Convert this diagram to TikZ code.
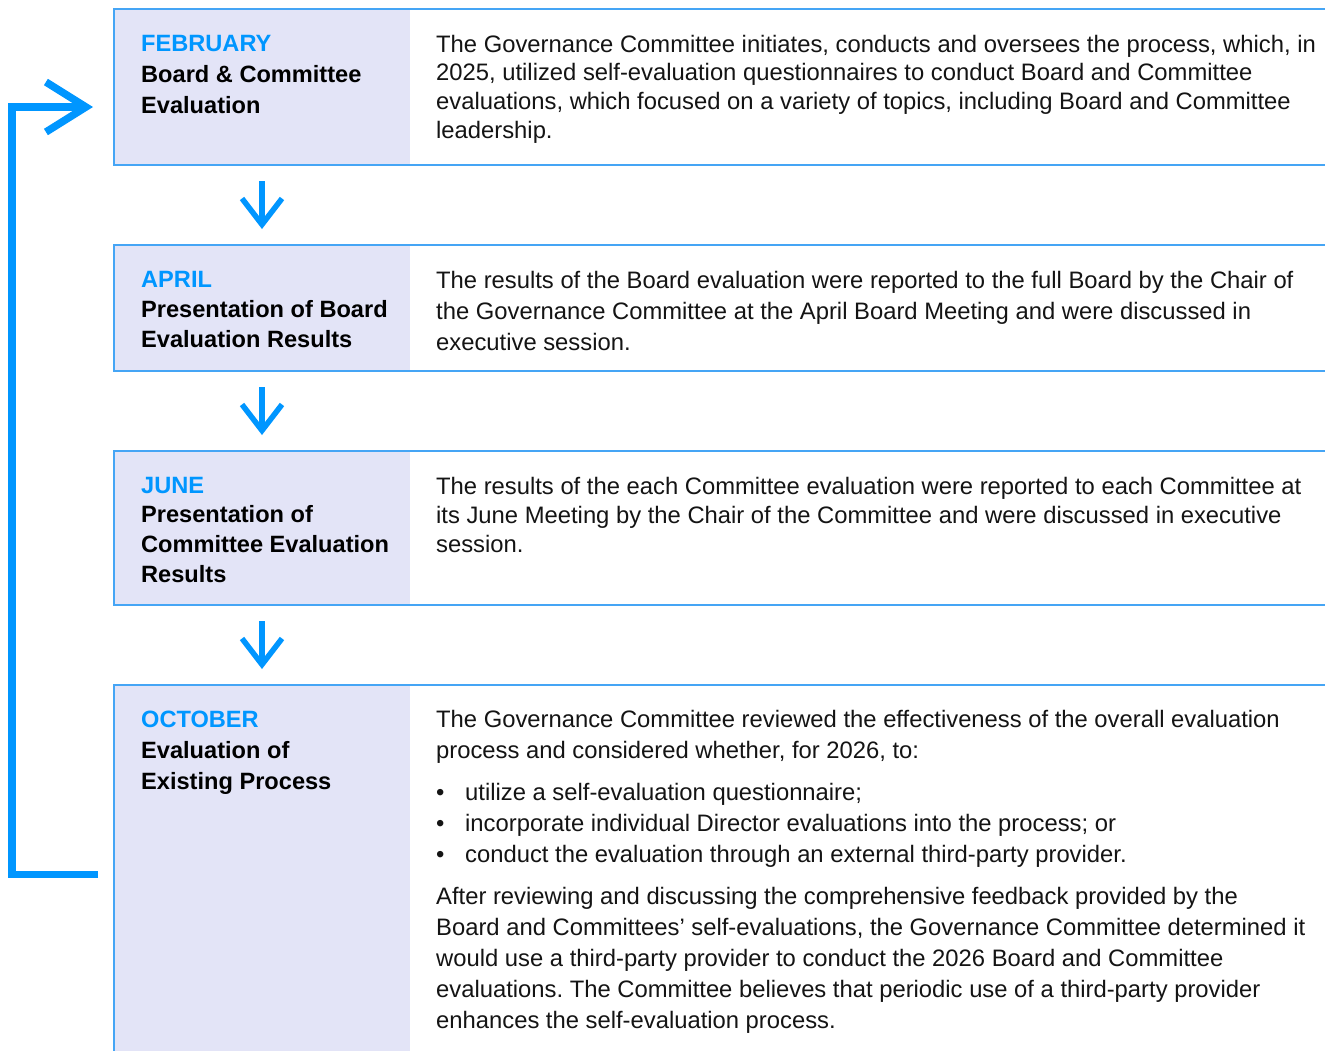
\documentclass[tikz,border=0pt]{standalone}
\usepackage{fontspec}
\setmainfont{Liberation Sans}
\usetikzlibrary{arrows.meta}
\definecolor{accent}{HTML}{0096FF}
\definecolor{framec}{HTML}{45A5F5}
\definecolor{panel}{HTML}{E3E4F7}
\definecolor{ink}{HTML}{141414}
\newcommand{\firstline}{\rule{0pt}{20pt}}
\frenchspacing
\begin{document}
\begin{tikzpicture}[x=1pt,y=-1pt,
  panelbox/.style={fill=panel, draw=none, minimum width=296pt, inner sep=0pt, outer sep=0pt, anchor=north west},
  frameline/.style={draw=framec, line width=1.6pt},
  bodytext/.style={anchor=north west, inner sep=0pt, align=left, text=ink, font=\fontsize{23.8}{29}\selectfont},
  headtext/.style={anchor=north west, inner sep=0pt, align=left, text=black, font=\bfseries\fontsize{23.6}{31}\selectfont},
  downarr/.style={draw=accent, line width=5.5pt, -{Straight Barb[length=26pt,width=40pt]}},
  looparr/.style={draw=accent, line width=7.5pt, line join=miter, -{Straight Barb[length=40pt,width=50pt]}}
]
\useasboundingbox[fill=white] (0,0) rectangle (1325,1050);
\coordinate (R) at (1330,0);

% panels
\node[panelbox, minimum height=156pt] (p1) at (114,9) {};
\node[panelbox, minimum height=126pt] (p2) at (114,245) {};
\node[panelbox, minimum height=154pt] (p3) at (114,451) {};
\node[panelbox, minimum height=370pt] (p4) at (114,685) {};

% frames
\draw[frameline] (p1.north -| R) -- (p1.north west) -- (p1.south west) -- (p1.south -| R);
\draw[frameline] (p2.north -| R) -- (p2.north west) -- (p2.south west) -- (p2.south -| R);
\draw[frameline] (p3.north -| R) -- (p3.north west) -- (p3.south west) -- (p3.south -| R);
\draw[frameline] (p4.north -| R) -- (p4.north west) -- (p4.south west);

% headings
\node[headtext] (h1) at (141,31) {\firstline\textcolor{accent}{FEBRUARY}\\Board \& Committee\\Evaluation};
\node[headtext, font=\bfseries\fontsize{23.6}{30}\selectfont] (h2) at (141,267) {\firstline\textcolor{accent}{APRIL}\\Presentation of Board\\Evaluation Results};
\node[headtext, font=\bfseries\fontsize{23.6}{29.7}\selectfont] (h3) at (141,473) {\firstline\textcolor{accent}{JUNE}\\Presentation of\\Committee Evaluation\\Results};
\node[headtext] (h4) at (141,707) {\firstline\textcolor{accent}{OCTOBER}\\Evaluation of\\Existing Process};

% body texts
\node[bodytext, font=\fontsize{23.8}{28.7}\selectfont] (t1) at (436,32) {\firstline The Governance Committee initiates, conducts and oversees the process, which, in\\2025, utilized self-evaluation questionnaires to conduct Board and Committee\\evaluations, which focused on a variety of topics, including Board and Committee\\leadership.};
\node[bodytext, font=\fontsize{23.8}{31}\selectfont] (t2) at (436,268) {\firstline The results of the Board evaluation were reported to the full Board by the Chair of\\the Governance Committee at the April Board Meeting and were discussed in\\executive session.};
\node[bodytext] (t3) at (436,474) {\firstline The results of the each Committee evaluation were reported to each Committee at\\its June Meeting by the Chair of the Committee and were discussed in executive\\session.};
\node[bodytext, font=\fontsize{23.8}{31}\selectfont] (t4a) at (436,707) {\firstline The Governance Committee reviewed the effectiveness of the overall evaluation\\process and considered whether, for 2026, to:};
\node[bodytext, font=\fontsize{23.8}{31}\selectfont] (t4b) at (436,780) {\firstline\makebox[29pt][l]{\textbullet}utilize a self-evaluation questionnaire;\\\makebox[29pt][l]{\textbullet}incorporate individual Director evaluations into the process; or\\\makebox[29pt][l]{\textbullet}conduct the evaluation through an external third-party provider.};
\node[bodytext, font=\fontsize{23.8}{31}\selectfont] (t4c) at (436,884) {\firstline After reviewing and discussing the comprehensive feedback provided by the\\Board and Committees’ self-evaluations, the Governance Committee determined it\\would use a third-party provider to conduct the 2026 Board and Committee\\evaluations. The Committee believes that periodic use of a third-party provider\\enhances the self-evaluation process.};

% down arrows
\draw[downarr] ([yshift=-16pt]p1.south) -- ([yshift=16pt]p2.north);
\draw[downarr] ([yshift=-16pt]p2.south) -- ([yshift=16pt]p3.north);
\draw[downarr] ([yshift=-16pt]p3.south) -- ([yshift=16pt]p4.north);

% feedback loop
\coordinate (fbstart) at (98,874.5);
\coordinate (fbtop) at (12,107);
\coordinate (fbend) at (93,107);
\draw[looparr] (fbstart) -| (fbtop) -- (fbend);
\end{tikzpicture}
\end{document}
